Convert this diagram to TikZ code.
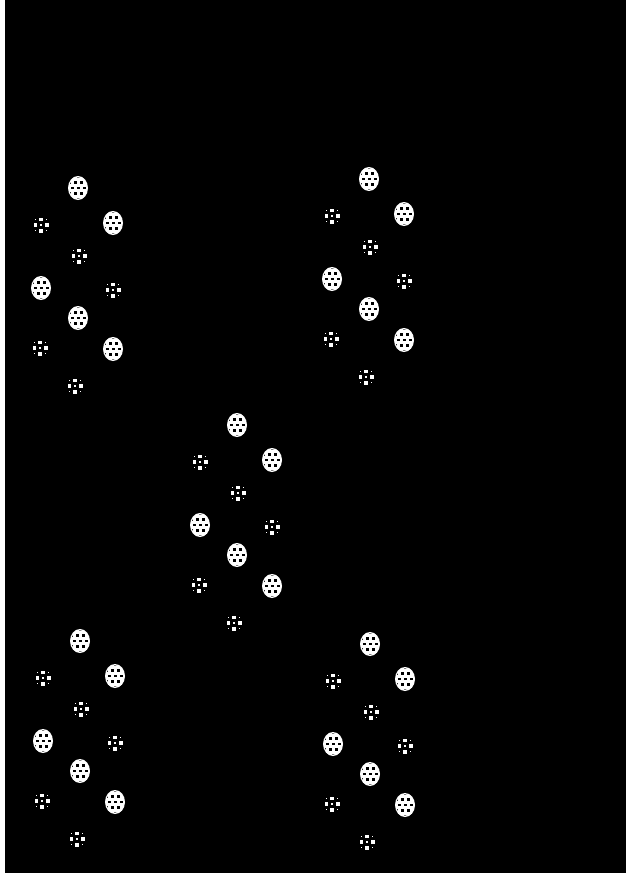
\documentclass[tikz,border=0pt]{standalone}
\newcommand\bigspot[2]{%
 \begin{scope}[shift={(#1,#2)}]
  \fill[white] (0,0) ellipse [x radius=10, y radius=12];
  \begin{scope}
   \clip (0,0) ellipse [x radius=8.6, y radius=10.6];
   \foreach \i in {-2,...,2} \foreach \j in {-2,...,2} {
     \fill[black] ({\i*6+mod(\j+2,2)*3-1.5},{\j*5.5-1.4}) rectangle ++(3,2.8);
   }
  \end{scope}
 \end{scope}}
\newcommand\smallspot[2]{%
 \begin{scope}[shift={(#1,#2)}]
  \fill[white] (-1.8,-7.5) rectangle ++(3.6,3.6);
  \fill[white] (-7.5,-1.8) rectangle ++(3.6,3.6);
  \fill[white] (3.9,-1.8) rectangle ++(3.6,3.6);
  \fill[white] (-1.8,3.9) rectangle ++(3.6,3.6);
  \fill[white] (-0.8,-0.8) rectangle ++(1.6,1.6);
  \fill[white] (-6,-6) rectangle ++(1.4,1.4);
  \fill[white] (4.6,-6) rectangle ++(1.4,1.4);
  \fill[white] (-6,4.6) rectangle ++(1.4,1.4);
  \fill[white] (4.6,4.6) rectangle ++(1.4,1.4);
 \end{scope}}
\newcommand\spotcluster[2]{%
 \begin{scope}[shift={(#1,#2)}]
  \bigspot{0}{0}
  \smallspot{-37}{37}
  \bigspot{35}{35}
  \smallspot{1}{68}
  \bigspot{-37}{100}
  \smallspot{35}{102}
  \bigspot{0}{130}
  \smallspot{-38}{160}
  \bigspot{35}{161}
  \smallspot{-3}{198}
 \end{scope}}
\begin{document}
\begin{tikzpicture}[x=1pt,y=-1pt]
\useasboundingbox (0,0) rectangle (626,878);
\fill[black] (-5,-5) rectangle (631,883);
\fill[white] (-5,-5) rectangle (5,883);
\fill[white] (-5,873) rectangle (631,883);
\spotcluster{78}{188}
\spotcluster{369}{179}
\spotcluster{237}{425}
\spotcluster{80}{641}
\spotcluster{370}{644}
\end{tikzpicture}
\end{document}
